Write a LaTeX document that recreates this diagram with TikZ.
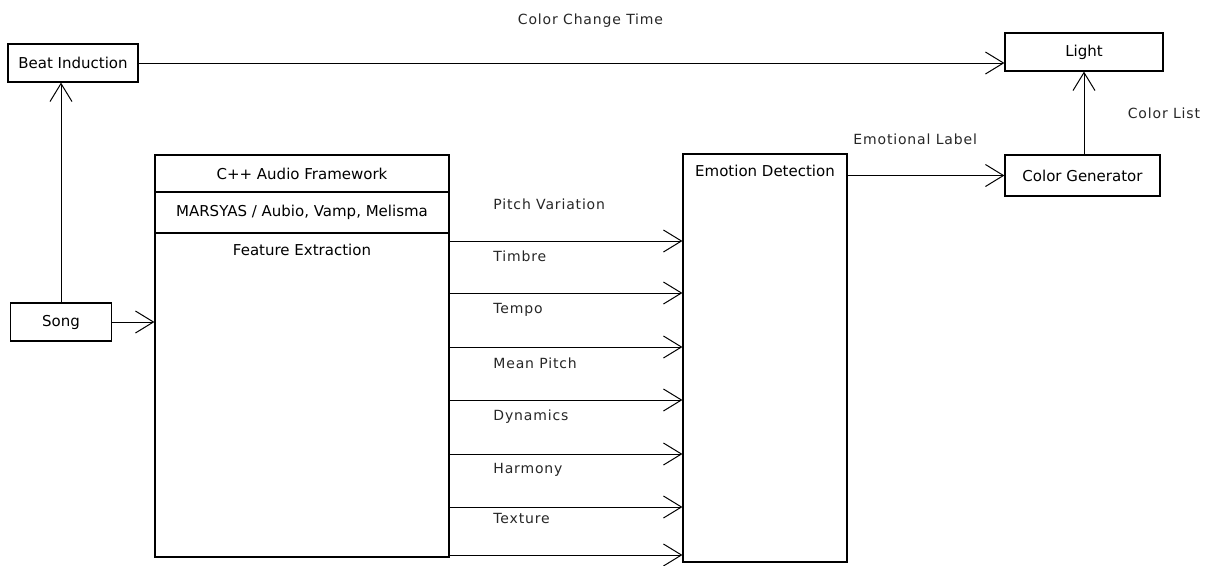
\documentclass[tikz,border=0pt]{standalone}
\usepackage{fontspec}
\setmainfont{DejaVu Sans}
\newfontfamily\notefamily[LetterSpace=6]{DejaVu Sans}
\usepackage{tikz}
\usetikzlibrary{arrows.meta}
\newcommand{\boxfont}{\fontsize{15}{18}\selectfont}
\newcommand{\notefont}{\notefamily\fontsize{14}{17}\selectfont}
\tikzset{
  block/.style={draw, rectangle, line width=1.2pt, inner sep=0pt, font=\boxfont},
  note/.style={font=\notefont, text=black!85},
  line/.style={-{Straight Barb[length=18pt,width=22pt]}, line width=1pt}
}

\begin{document}
\begin{tikzpicture}[x=1pt, y=-1pt]
    \useasboundingbox (0,0) rectangle (1213,565);

    \node[block, minimum width=130, minimum height=38] (beat) at (73,63) {Beat Induction};
    \node[block, minimum width=101, minimum height=38] (song) at (61,322) {Song};
    \node[block, minimum width=158, minimum height=38] (light) at (1084,52) {Light};
    \node[block, minimum width=155, minimum height=41] (colgen) at (1082.5,175.5) {Color Generator};

    \node[block, minimum width=294, minimum height=37] (audio) at (302,173.5) {C++ Audio Framework};
    \node[block, minimum width=294, minimum height=41] (marsyas) at (302,212.5) {MARSYAS / Aubio, Vamp, Melisma};
    \node[block, minimum width=294, minimum height=324,
          label={[anchor=north, yshift=-8.5pt, font=\boxfont]north:Feature Extraction}] (feat) at (302,395) {};

    \node[block, minimum width=164, minimum height=408,
          label={[anchor=north, yshift=-8.5pt, font=\boxfont]north:Emotion Detection}] (emo) at (765,358) {};

    \draw[line] (beat.east) -- node[note, midway, yshift=42pt, xshift=19pt] {Color Change Time} (beat.east -| light.west);
    \draw[line] (song.north) -- (song.north |- beat.south);
    \draw[line] (song.east) -- (song.east -| feat.west);

    \foreach \y/\txt in {241/Pitch Variation, 293/Timbre, 347/Tempo, 400/Mean Pitch,
                         454/Dynamics, 507/Harmony, 555/Texture}
        \draw[line] (feat.east |- 0,\y) -- node[note, at start, anchor=west, xshift=40pt, yshift=37pt] {\txt} (emo.west |- 0,\y);

    \draw[line] (colgen.west -| emo.east) -- node[note, at start, anchor=west, xshift=2pt, yshift=36pt] {Emotional Label} (colgen.west);
    \draw[line] (colgen.north -| light.south) -- node[note, midway, anchor=west, xshift=40pt] {Color List} (light.south);
\end{tikzpicture}
\end{document}
